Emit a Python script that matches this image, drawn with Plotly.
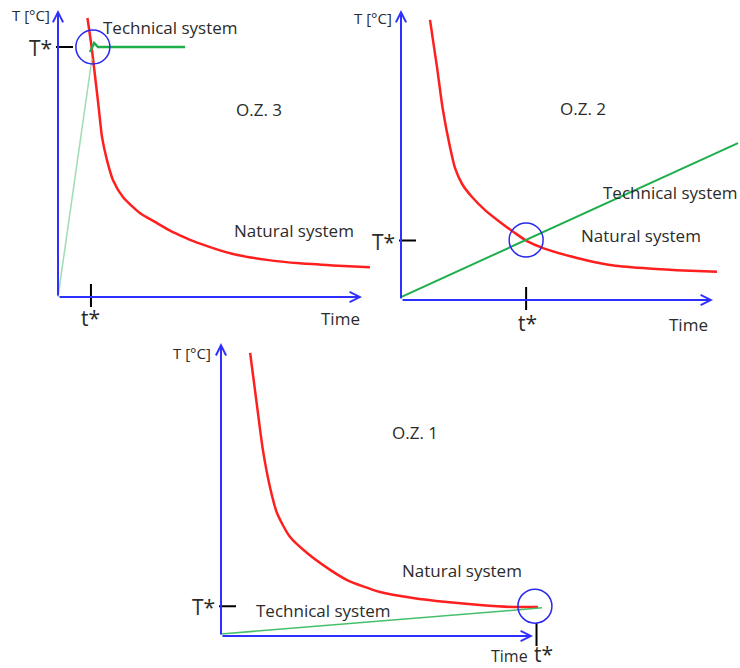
import plotly.graph_objects as go

W, H = 740, 668

# ---------------- data (arbitrary units: time 0..10, temperature 0..10) ----------------
# O.Z. 3 (top left)
oz3_nat_t = [0.92, 1.05, 1.19, 1.27, 1.375, 1.53, 1.72, 2.03, 2.56, 3.03, 3.50, 3.97, 4.44, 5.47, 6.53, 7.56, 8.59, 9.75]
oz3_nat_T = [9.62, 8.62, 7.31, 6.55, 5.52, 4.72, 4.03, 3.45, 2.90, 2.59, 2.29, 2.05, 1.84, 1.48, 1.28, 1.16, 1.09, 1.03]
oz3_ramp_t = [0.0, 1.06]
oz3_ramp_T = [0.0, 8.21]
oz3_tech_t = [1.00, 1.13, 1.25, 3.97]
oz3_tech_T = [8.45, 8.76, 8.62, 8.62]
oz3_t_star, oz3_T_star = 1.03, 8.62
oz3_circle = (1.09, 8.62)

# O.Z. 2 (top right)
oz2_nat_t = [0.906, 1.125, 1.31, 1.53, 1.69, 1.91, 2.22, 2.625, 3.09, 3.56, 3.94, 4.44, 5.50, 6.53, 7.56, 8.625, 9.875]
oz2_nat_T = [9.66, 8.03, 6.55, 5.28, 4.55, 4.00, 3.55, 3.10, 2.69, 2.31, 2.03, 1.79, 1.45, 1.21, 1.10, 1.03, 0.97]
oz2_tech_t = [0.0, 10.53]
oz2_tech_T = [0.10, 5.41]
oz2_t_star, oz2_T_star = 3.91, 2.05
oz2_circle = (3.91, 2.07)

# O.Z. 1 (bottom)
oz1_nat_t = [0.91, 1.13, 1.31, 1.53, 1.75, 2.16, 2.69, 3.41, 3.94, 4.97, 6.00, 7.06, 8.09, 9.13, 9.91]
oz1_nat_T = [9.76, 7.90, 6.41, 5.14, 4.24, 3.41, 2.86, 2.28, 1.93, 1.52, 1.31, 1.17, 1.07, 1.00, 1.00]
oz1_tech_t = [0.0, 10.03]
oz1_tech_T = [0.07, 0.97]
oz1_t_star, oz1_T_star = 9.86, 1.03
oz1_circle = (9.81, 1.03)

labels_axis_y = "T [°C]"
label_axis_x = "Time"
label_nat = "Natural system"
label_tech = "Technical system"

# ---------------- styling ----------------
BLUE = "#2f2fff"
CIRC = "#2a2aee"
RED = "#ff1f1f"
GREEN = "#1eae4c"
LGREEN = "#9fdcb2"
TXT = "#2b2b2b"
FONT = "Open Sans"

# panel geometry in pixels: origin x, origin y, x-units shown, arrow tips (data units)
panels = [
    dict(name="O.Z. 3", ox=58, oy=297, xr=10.5, xtip=9.5, ytip=9.9, ax="x", ay="y"),
    dict(name="O.Z. 2", ox=401, oy=300, xr=339 / 32, xtip=9.75, ytip=10.0, ax="x2", ay="y2"),
    dict(name="O.Z. 1", ox=221, oy=636, xr=10.5, xtip=9.75, ytip=10.1, ax="x3", ay="y3"),
]
SX, SY = 32, 29  # px per unit
XPAD, YPAD = 0.25, 0.5  # room left of / below the origin for the tick marks

fig = go.Figure()


def line(ax, ay, xs, ys, color, width, shape="spline"):
    fig.add_trace(go.Scatter(x=xs, y=ys, xaxis=ax, yaxis=ay, mode="lines",
                             line=dict(color=color, width=width, shape=shape, smoothing=0.7),
                             hoverinfo="skip", showlegend=False))


p1, p2, p3 = panels
# O.Z. 3
line(p1["ax"], p1["ay"], oz3_nat_t, oz3_nat_T, RED, 2.5)
line(p1["ax"], p1["ay"], oz3_ramp_t, oz3_ramp_T, LGREEN, 1.5, "linear")
line(p1["ax"], p1["ay"], oz3_tech_t, oz3_tech_T, GREEN, 2.5, "linear")
# O.Z. 2
line(p2["ax"], p2["ay"], oz2_nat_t, oz2_nat_T, RED, 2.5)
line(p2["ax"], p2["ay"], oz2_tech_t, oz2_tech_T, GREEN, 2, "linear")
# O.Z. 1
line(p3["ax"], p3["ay"], oz1_nat_t, oz1_nat_T, RED, 2.5)
line(p3["ax"], p3["ay"], oz1_tech_t, oz1_tech_T, "#45c06a", 1.5, "linear")

layout = dict(width=W, height=H, margin=dict(l=0, r=0, t=0, b=0),
              paper_bgcolor="white", plot_bgcolor="white", showlegend=False)
for i, p in enumerate(panels):
    sfx = "" if i == 0 else str(i + 1)
    x0 = (p["ox"] - XPAD * SX) / W
    x1 = min((p["ox"] + p["xr"] * SX) / W, 1.0)
    y0 = 1 - (p["oy"] + YPAD * SY) / H
    y1 = 1 - (p["oy"] - 10 * SY) / H
    layout["xaxis" + sfx] = dict(domain=[x0, x1], range=[-XPAD, p["xr"]], visible=False, fixedrange=True)
    layout["yaxis" + sfx] = dict(domain=[y0, y1], range=[-YPAD, 10], visible=False, fixedrange=True)
fig.update_layout(**layout)

ann = []
shapes = []
stars = [(oz3_t_star, oz3_T_star, oz3_circle), (oz2_t_star, oz2_T_star, oz2_circle),
         (oz1_t_star, oz1_T_star, oz1_circle)]
for p, (ts, Ts, circ) in zip(panels, stars):
    xr, yr = p["ax"], p["ay"]
    # axes arrows
    for tip in [(p["xtip"], 0), (0, p["ytip"])]:
        ann.append(dict(x=tip[0], y=tip[1], ax=0, ay=0, xref=xr, yref=yr, axref=xr, ayref=yr,
                        text="", showarrow=True, arrowhead=5, arrowsize=1, arrowwidth=2,
                        arrowcolor=BLUE, standoff=0, startstandoff=0))
    # T* and t* ticks
    shapes.append(dict(type="line", xref=xr, yref=yr, xsizemode="pixel", xanchor=0,
                       x0=-2, x1=15, y0=Ts, y1=Ts, line=dict(color="black", width=2)))
    shapes.append(dict(type="line", xref=xr, yref=yr, ysizemode="pixel", yanchor=0,
                       y0=-10, y1=13, x0=ts, x1=ts, line=dict(color="black", width=2)))
    # circle
    shapes.append(dict(type="circle", xref=xr, yref=yr, xsizemode="pixel", ysizemode="pixel",
                       xanchor=circ[0], yanchor=circ[1], x0=-17, x1=17, y0=-17, y1=17,
                       line=dict(color=CIRC, width=1.5)))
    ann.append(dict(x=0, y=Ts, xref=xr, yref=yr, text="T*", showarrow=False, xanchor="right",
                    xshift=-4, yshift=-1, font=dict(size=21, color=TXT, family=FONT)))


def txt(x, y, s, size=17):
    ann.append(dict(x=x / W, y=1 - y / H, xref="paper", yref="paper", text=s, showarrow=False,
                    xanchor="center", yanchor="middle", borderpad=0,
                    font=dict(size=size, color=TXT, family=FONT)))


# O.Z. 3 labels
txt(31, 15, labels_axis_y, 15)
txt(90, 318, "t*", 21)
txt(340, 318, label_axis_x)
txt(170, 27, label_tech)
txt(259, 109, "O.Z. 3")
txt(294, 230, label_nat)
# O.Z. 2 labels
txt(373, 18, labels_axis_y, 15)
txt(527, 323, "t*", 21)
txt(688, 325, label_axis_x)
txt(670, 192, label_tech)
txt(641, 235, label_nat)
txt(583, 108, "O.Z. 2")
# O.Z. 1 labels
txt(192, 353, labels_axis_y, 15)
txt(543, 654, "t*", 21)
txt(509, 656, label_axis_x, 16)
txt(323, 610, label_tech)
txt(462, 570, label_nat)
txt(415, 432, "O.Z. 1")

fig.update_layout(annotations=ann, shapes=shapes)
fig.write_html("out.html", config={"displayModeBar": False},
               post_script="document.body.style.margin='0px';")
